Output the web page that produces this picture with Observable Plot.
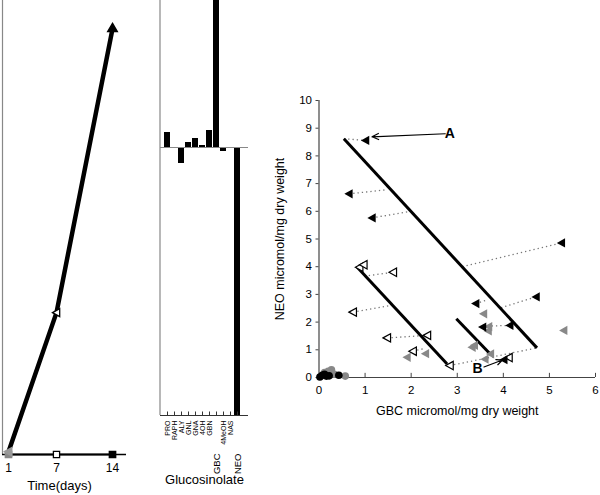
<!DOCTYPE html>
<html>
<head>
<meta charset="utf-8">
<script src="https://cdn.jsdelivr.net/npm/d3@7"></script>
<script src="https://cdn.jsdelivr.net/npm/@observablehq/plot@0.6"></script>
<style>
  html, body { margin: 0; padding: 0; background: #fff; }
  #wrap { position: relative; width: 600px; height: 495px; background: #fff; overflow: hidden; }
  #wrap svg { position: absolute; top: 0; max-width: none !important; }
</style>
</head>
<body>
<div id="wrap"></div>
<script>
// ---------- Panel 1: time course ----------
const days = [1, 7, 14];
const seriesThick = [0.1, 5, 15];
const seriesFlat = [0, 0, 0];
const timeTicks = [1, 7, 14];

// ---------- Panel 2: glucosinolate change ----------
const glucosinolates = ["PRO", "RAPH", "ALY", "GNL", "GNA", "4OH", "GBN", "GBC", "4MeOH", "NAS", "NEO"];
const glucoChange = [1.5, 0, -1.6, 0.5, 0.9, 0.2, 1.7, 18, -0.4, -0.1, -27];

// ---------- Panel 3: NEO vs GBC ----------
const blackTriGBC = [1.01, 0.65, 1.15, 5.26, 4.71, 3.40, 3.55, 4.14, 4.01];
const blackTriNEO = [8.56, 6.63, 5.76, 4.86, 2.91, 2.67, 1.82, 1.88, 0.64];
const grayTriGBC = [1.91, 2.31, 3.32, 3.37, 3.57, 3.68, 3.67, 3.72, 3.60, 5.31];
const grayTriNEO = [0.73, 0.86, 1.09, 1.16, 2.30, 1.84, 1.68, 0.85, 0.66, 1.70];
const openTriGBC = [0.88, 0.97, 1.61, 0.74, 1.48, 2.35, 2.04, 2.84, 4.12];
const openTriNEO = [3.98, 4.07, 3.80, 2.36, 1.43, 1.52, 0.95, 0.43, 0.72];
const blackCircGBC = [0.02, 0.07, 0.12, 0.16, 0.22, 0.43];
const blackCircNEO = [0.02, 0.08, 0.12, 0.05, 0.06, 0.08];
const grayCircGBC = [0.12, 0.20, 0.27, 0.33, 0.57];
const grayCircNEO = [0.18, 0.22, 0.28, 0.12, 0.05];
// fitted lines (start/end)
const fitX1 = [0.54, 0.83, 2.98];
const fitY1 = [8.62, 3.98, 2.12];
const fitX2 = [4.73, 2.78, 3.71];
const fitY2 = [1.07, 0.49, 0.86];
// dotted connectors
const dotX1 = [0.54, 0.65, 1.15, 3.11, 3.95, 3.40, 3.56, 1.08, 0.74, 1.48, 2.04, 2.84];
const dotY1 = [8.62, 6.63, 5.76, 4.00, 2.52, 2.67, 1.85, 3.68, 2.36, 1.43, 0.95, 0.43];
const dotX2 = [1.00, 1.48, 1.98, 5.26, 4.71, 3.65, 4.14, 1.61, 1.55, 2.35, 2.30, 4.73];
const dotY2 = [8.56, 6.78, 6.00, 4.86, 2.91, 2.80, 1.88, 3.80, 2.60, 1.52, 1.05, 1.07];
// annotations
const noteLabels = ["A", "B"];
const noteTextX = [2.84, 3.44];
const noteTextY = [8.80, 0.31];
const noteFromX = [2.74, 3.58];
const noteFromY = [8.80, 0.38];
const noteToX = [1.15, 3.98];
const noteToY = [8.69, 0.63];
const gbcTicks = [0, 1, 2, 3, 4, 5, 6];
const neoTicks = [0, 1, 2, 3, 4, 5, 6, 7, 8, 9, 10];

const FONT = "'Liberation Sans', Arial, sans-serif";
const wrap = document.getElementById("wrap");

// left-pointing triangle symbol
const triLeft = {
  draw(ctx, size) {
    const r = Math.sqrt(size / Math.PI);
    ctx.moveTo(-r, 0);
    ctx.lineTo(r * 0.8, -r);
    ctx.lineTo(r * 0.8, r);
    ctx.closePath();
  }
};

function place(svg, left) {
  svg.style.left = left + "px";
  wrap.appendChild(svg);
}

// ---------- Panel 1 ----------
const tData = days.map((d, i) => ({day: d, thick: seriesThick[i], flat: seriesFlat[i]}));
const p1 = Plot.plot({
  width: 130, height: 495,
  marginLeft: 2, marginRight: 4, marginTop: 0, marginBottom: 41,
  x: {domain: [0.25, 15.75]},
  y: {domain: [0, 16], axis: null},
  style: {fontFamily: FONT, background: "white", color: "black"},
  marks: [
    Plot.ruleX([0.25], {stroke: "#888", strokeWidth: 1.2}),
    Plot.ruleY([0], {stroke: "#000", strokeWidth: 1.5}),
    Plot.axisX({ticks: timeTicks, tickSize: 0, tickPadding: 9, fontSize: 12, label: null, tickFormat: d => d}),
    Plot.line(tData, {x: "day", y: "flat", stroke: "#000", strokeWidth: 2}),
    Plot.line(tData, {x: "day", y: "thick", stroke: "#000", strokeWidth: 4.5}),
    Plot.dot(tData.slice(0, 1), {x: "day", y: "flat", symbol: "square", r: 3.5, fill: "#888", stroke: "#888"}),
    Plot.dot(tData.slice(0, 1), {x: "day", y: "thick", symbol: triLeft, r: 4, fill: "#999", stroke: "#999"}),
    Plot.dot(tData.slice(1, 2), {x: "day", y: "flat", symbol: "square", r: 3.5, fill: "white", stroke: "#000", strokeWidth: 1.3}),
    Plot.dot(tData.slice(1, 2), {x: "day", y: "thick", symbol: triLeft, r: 4, fill: "white", stroke: "#000", strokeWidth: 1.3}),
    Plot.dot(tData.slice(2, 3), {x: "day", y: "flat", symbol: "square", r: 3.5, fill: "#000", stroke: "#000"}),
    Plot.dot(tData.slice(2, 3), {x: "day", y: "thick", symbol: "triangle", r: 3.5, fill: "#000", stroke: "#000"}),
    Plot.text(["Time(days)"], {text: d => d, frameAnchor: "bottom", dx: -5, dy: 35, fontSize: 13})
  ]
});
place(p1, 0);

// ---------- Panel 2 ----------
const gData = glucosinolates.map((g, i) => ({name: g, value: glucoChange[i]}));
const G_MIN = -26.8, G_MAX = 14.7;
const lowered = ["GBC", "NEO"];
const p2 = Plot.plot({
  width: 100, height: 495,
  marginLeft: 10, marginRight: 2, marginTop: 0, marginBottom: 80,
  x: {domain: glucosinolates, range: [12.4, 92.3], padding: 0.1},
  y: {domain: [G_MIN, G_MAX], axis: null},
  style: {fontFamily: FONT, background: "white", color: "black"},
  marks: [
    Plot.barY(gData, {x: "name", y: "value", fill: "#000", clip: true}),
    Plot.ruleY([0], {stroke: "#888", strokeWidth: 1.2}),
    Plot.ruleY([G_MIN], {stroke: "#333", strokeWidth: 1.2}),
    Plot.ruleX(glucosinolates, {x: d => d, y1: G_MIN, y2: G_MIN + 0.35, stroke: "#333"}),
    Plot.axisX({ticks: glucosinolates.filter(g => !lowered.includes(g)), tickSize: 0, tickPadding: 5, tickRotate: -90, fontSize: 7, label: null}),
    Plot.axisX({ticks: lowered, tickSize: 0, tickPadding: 38, tickRotate: -90, fontSize: 9.5, label: null}),
    Plot.text(["Glucosinolate"], {text: d => d, frameAnchor: "bottom", dy: 68, fontSize: 13})
  ]
});
d3.select(p2).append("line")
  .attr("x1", 10).attr("x2", 10).attr("y1", 0).attr("y2", 415)
  .attr("stroke", "#888").attr("stroke-width", 1.2);
place(p2, 150);

// ---------- Panel 3 ----------
const pts = (xs, ys) => xs.map((x, i) => ({x, y: ys[i]}));
const segs = (x1, y1, x2, y2) => x1.map((v, i) => ({x1: v, y1: y1[i], x2: x2[i], y2: y2[i]}));
const notes = noteLabels.map((t, i) => ({t, tx: noteTextX[i], ty: noteTextY[i], x1: noteFromX[i], y1: noteFromY[i], x2: noteToX[i], y2: noteToY[i]}));

const p3 = Plot.plot({
  width: 338, height: 495,
  marginLeft: 56.5, marginRight: 5, marginTop: 100, marginBottom: 118,
  x: {domain: [0, 6]},
  y: {domain: [0, 10]},
  style: {fontFamily: FONT, background: "white", color: "black"},
  marks: [
    Plot.ruleY([0], {stroke: "#444", strokeWidth: 1.2}),
    Plot.ruleX([0], {stroke: "#444", strokeWidth: 1.2}),
    Plot.ruleX(gbcTicks.slice(1), {x: d => d, y1: 0, y2: 0.15, stroke: "#444"}),
    Plot.axisX({ticks: gbcTicks, tickSize: 0, tickPadding: 8, fontSize: 11.5, label: null, tickFormat: d => d}),
    Plot.axisY({ticks: neoTicks, tickSize: 3, tickPadding: 4, fontSize: 11.5, label: null, stroke: "#444", tickFormat: d => d}),
    Plot.link(segs(dotX1, dotY1, dotX2, dotY2), {x1: "x1", y1: "y1", x2: "x2", y2: "y2", stroke: "#777", strokeWidth: 1.3, strokeDasharray: "1.3,3"}),
    Plot.link(segs(fitX1, fitY1, fitX2, fitY2), {x1: "x1", y1: "y1", x2: "x2", y2: "y2", stroke: "#000", strokeWidth: 3}),
    Plot.dot(pts(grayCircGBC, grayCircNEO), {x: "x", y: "y", r: 3.8, fill: "#888"}),
    Plot.dot(pts(blackCircGBC, blackCircNEO), {x: "x", y: "y", r: 3.8, fill: "#000"}),
    Plot.dot(pts(grayTriGBC, grayTriNEO), {x: "x", y: "y", symbol: triLeft, r: 4.6, fill: "#888"}),
    Plot.dot(pts(openTriGBC, openTriNEO), {x: "x", y: "y", symbol: triLeft, r: 4.2, fill: "white", stroke: "#000", strokeWidth: 1.2}),
    Plot.dot(pts(blackTriGBC, blackTriNEO), {x: "x", y: "y", symbol: triLeft, r: 4.6, fill: "#000"}),
    Plot.arrow(notes, {x1: "x1", y1: "y1", x2: "x2", y2: "y2", stroke: "#000", strokeWidth: 1.2, headLength: 9, headAngle: 50}),
    Plot.text(notes, {x: "tx", y: "ty", text: "t", fontSize: 14, fontWeight: "bold"}),
    Plot.text(["GBC micromol/mg dry weight"], {text: d => d, frameAnchor: "bottom", dy: 37, fontSize: 12.5}),
    Plot.text(["NEO micromol/mg dry weight"], {text: d => d, frameAnchor: "left", textAnchor: "middle", dx: -39.5, rotate: -90, fontSize: 12.5})
  ]
});
place(p3, 262);
</script>
</body>
</html>
